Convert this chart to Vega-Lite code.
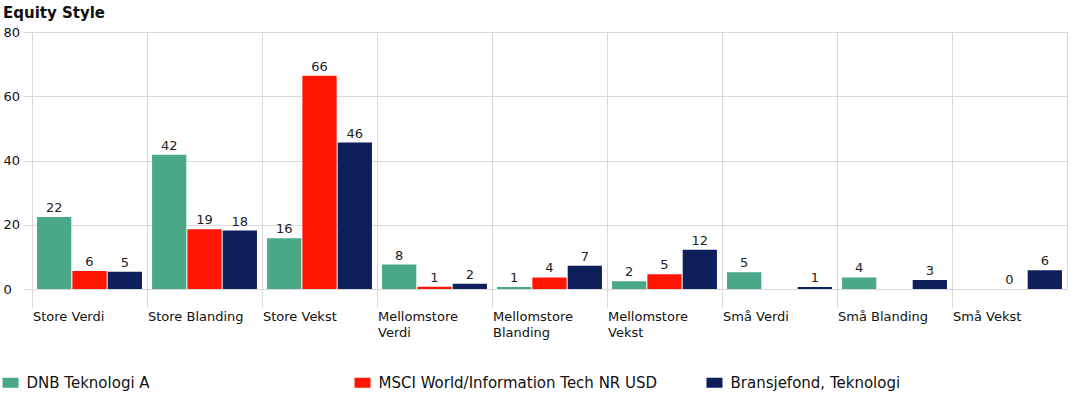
{
  "$schema": "https://vega.github.io/schema/vega-lite/v6.json",
  "width": 1035,
  "height": 257,
  "autosize": {"type": "none"},
  "padding": {"left": 32, "top": 32, "right": 7, "bottom": 110},
  "background": "white",
  "title": {
    "text": "Equity Style",
    "anchor": "start",
    "frame": "group",
    "font": "DejaVu Sans",
    "fontSize": 15,
    "fontWeight": "bold",
    "color": "#111111",
    "baseline": "alphabetic",
    "dx": -29,
    "dy": 16,
    "offset": 9
  },
  "data": {
    "values": [
      {"style": "Store Verdi", "series": "DNB Teknologi A", "value": 22.4},
      {"style": "Store Verdi", "series": "MSCI World/Information Tech NR USD", "value": 5.6},
      {"style": "Store Verdi", "series": "Bransjefond, Teknologi", "value": 5.4},
      {"style": "Store Blanding", "series": "DNB Teknologi A", "value": 41.8},
      {"style": "Store Blanding", "series": "MSCI World/Information Tech NR USD", "value": 18.6},
      {"style": "Store Blanding", "series": "Bransjefond, Teknologi", "value": 18.2},
      {"style": "Store Vekst", "series": "DNB Teknologi A", "value": 15.8},
      {"style": "Store Vekst", "series": "MSCI World/Information Tech NR USD", "value": 66.4},
      {"style": "Store Vekst", "series": "Bransjefond, Teknologi", "value": 45.6},
      {"style": "Mellomstore Verdi", "series": "DNB Teknologi A", "value": 7.6},
      {"style": "Mellomstore Verdi", "series": "MSCI World/Information Tech NR USD", "value": 0.7},
      {"style": "Mellomstore Verdi", "series": "Bransjefond, Teknologi", "value": 1.6},
      {"style": "Mellomstore Blanding", "series": "DNB Teknologi A", "value": 0.6},
      {"style": "Mellomstore Blanding", "series": "MSCI World/Information Tech NR USD", "value": 3.6},
      {"style": "Mellomstore Blanding", "series": "Bransjefond, Teknologi", "value": 7.2},
      {"style": "Mellomstore Vekst", "series": "DNB Teknologi A", "value": 2.4},
      {"style": "Mellomstore Vekst", "series": "MSCI World/Information Tech NR USD", "value": 4.6},
      {"style": "Mellomstore Vekst", "series": "Bransjefond, Teknologi", "value": 12.2},
      {"style": "Små Verdi", "series": "DNB Teknologi A", "value": 5.2},
      {"style": "Små Verdi", "series": "Bransjefond, Teknologi", "value": 0.6},
      {"style": "Små Blanding", "series": "DNB Teknologi A", "value": 3.6},
      {"style": "Små Blanding", "series": "Bransjefond, Teknologi", "value": 2.8},
      {"style": "Små Vekst", "series": "MSCI World/Information Tech NR USD", "value": 0},
      {"style": "Små Vekst", "series": "Bransjefond, Teknologi", "value": 5.8}
    ]
  },
  "encoding": {
    "x": {
      "field": "style",
      "type": "nominal",
      "sort": ["Store Verdi", "Store Blanding", "Store Vekst", "Mellomstore Verdi", "Mellomstore Blanding", "Mellomstore Vekst", "Små Verdi", "Små Blanding", "Små Vekst"],
      "scale": {"paddingInner": 0, "paddingOuter": 0},
      "axis": {
        "title": null,
        "bandPosition": 0,
        "domain": false,
        "grid": true,
        "gridColor": "#d9d9d9",
        "tickSize": 18,
        "tickColor": "#d9d9d9",
        "labelAngle": 0,
        "labelAlign": "left",
        "labelBaseline": "top",
        "labelPadding": 3,
        "labelOffset": -56.5,
        "labelFont": "DejaVu Sans",
        "labelFontSize": 13,
        "labelColor": "#111111",
        "labelLineHeight": 16,
        "labelOverlap": false,
        "labelBound": false,
        "labelLimit": 200,
        "labelExpr": "indexof(datum.label, 'Mellomstore') == 0 ? split(datum.label, ' ') : datum.label"
      }
    },
    "xOffset": {
      "field": "series",
      "type": "nominal",
      "sort": ["DNB Teknologi A", "MSCI World/Information Tech NR USD", "Bransjefond, Teknologi"],
      "scale": {"paddingOuter": 0.143, "paddingInner": 0.03}
    },
    "y": {
      "field": "value",
      "type": "quantitative",
      "scale": {"domain": [0, 80]},
      "axis": {
        "title": null,
        "values": [0, 20, 40, 60, 80],
        "domain": false,
        "gridColor": "#d9d9d9",
        "tickSize": 9,
        "tickColor": "#d9d9d9",
        "labelAlign": "left",
        "labelBaseline": "middle",
        "labelPadding": 20,
        "labelFont": "DejaVu Sans",
        "labelFontSize": 13,
        "labelColor": "#111111"
      }
    }
  },
  "layer": [
    {
      "mark": {"type": "bar"},
      "encoding": {
        "color": {
          "field": "series",
          "type": "nominal",
          "scale": {
            "domain": ["DNB Teknologi A", "MSCI World/Information Tech NR USD", "Bransjefond, Teknologi"],
            "range": ["#4BA886", "#FF1500", "#0E1F5C"]
          },
          "legend": {
            "title": null,
            "orient": "none",
            "legendX": -29,
            "legendY": 343,
            "direction": "horizontal",
            "columns": 3,
            "gridAlign": "all",
            "columnPadding": 48,
            "symbolType": "M-1.6,-1H1.6V1H-1.6Z",
            "symbolSize": 100,
            "symbolStrokeWidth": 0,
            "labelOffset": 8.5,
            "labelFont": "DejaVu Sans",
            "labelFontSize": 15,
            "labelColor": "#111111",
            "labelLimit": 500
          }
        }
      }
    },
    {
      "mark": {"type": "text", "dy": -9, "font": "DejaVu Sans", "fontSize": 13, "color": "#222222"},
      "encoding": {
        "text": {"field": "value", "type": "quantitative", "format": ".0f"}
      }
    }
  ],
  "config": {
    "view": {"stroke": "#d9d9d9"}
  }
}
